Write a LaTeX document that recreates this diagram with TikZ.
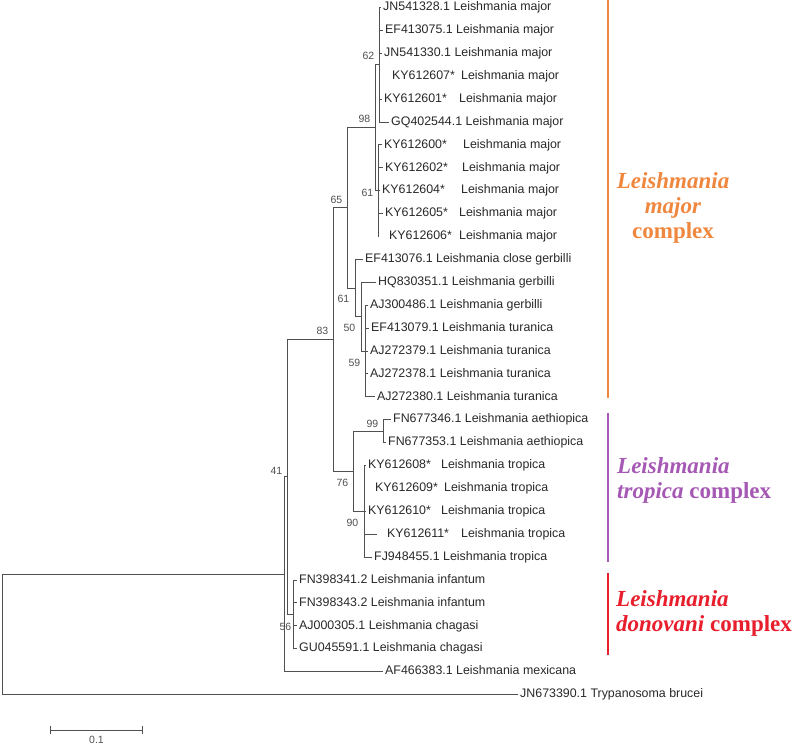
\documentclass[tikz,border=0pt]{standalone}
\usepackage{fontspec}
\setmainfont{Liberation Sans}
\newfontfamily\cladefont{Liberation Serif}
\usepackage{tikz}
\usetikzlibrary{arrows.meta,positioning}
\definecolor{branchgray}{RGB}{80,80,80}
\definecolor{leafgray}{RGB}{40,40,40}
\definecolor{majorcol}{RGB}{240,135,62}
\definecolor{tropcol}{RGB}{165,88,180}
\definecolor{donocol}{RGB}{232,30,45}

\begin{document}
\begin{tikzpicture}[
  x=1pt,y=-1pt,
  branch/.style={draw=branchgray,line width=0.9pt},
  leaf/.style={anchor=west,inner xsep=2pt,inner ysep=0pt,text=leafgray,font=\fontsize{12.4}{14}\selectfont,text height=9pt,text depth=2.5pt},
  boot/.style={inner sep=0.5pt,text=branchgray,font=\fontsize{10.5}{12}\selectfont},
  clade/.style={line width=1.6pt},
  cladetxt/.style={inner sep=1pt,font=\cladefont\bfseries\fontsize{23}{25}\selectfont},
]
\useasboundingbox (0,0) rectangle (794,745);

% internal nodes
\coordinate (n62) at (379,64.75);
\coordinate (n61a) at (378,190.7);
\coordinate (n98) at (375,127.7);
\coordinate (n59) at (365,351);
\coordinate (n50) at (361,316.65);
\coordinate (n61b) at (355,288);
\coordinate (n65) at (347,207.9);
\coordinate (n99) at (383,431.15);
\coordinate (n90) at (364,511.3);
\coordinate (n76) at (353,471.2);
\coordinate (n83) at (333,339.5);
\coordinate (n56) at (293,614.35);
\coordinate (n41) at (287,476.9);
\coordinate (nA) at (284,574.25);
\coordinate (root) at (2,634.4);

% L. major group
\node[leaf] (jn541328) at (381,7.5) {JN541328.1 Leishmania major};
\node[leaf] (ef413075) at (383,30.4) {EF413075.1 Leishmania major};
\node[leaf] (jn541330) at (382,53.3) {JN541330.1 Leishmania major};
\node[leaf] (ky612607) at (390,76.2) {KY612607*};
\node[leaf] (ky612607sp) at (459,76.2) {Leishmania major};
\node[leaf] (ky612601) at (382,99.1) {KY612601*};
\node[leaf] (ky612601sp) at (457,99.1) {Leishmania major};
\node[leaf] (gq402544) at (389,122) {GQ402544.1 Leishmania major};
\node[leaf] (ky612600) at (382,144.9) {KY612600*};
\node[leaf] (ky612600sp) at (461,144.9) {Leishmania major};
\node[leaf] (ky612602) at (383,167.8) {KY612602*};
\node[leaf] (ky612602sp) at (460,167.8) {Leishmania major};
\node[leaf] (ky612604) at (380,190.7) {KY612604*};
\node[leaf] (ky612604sp) at (459,190.7) {Leishmania major};
\node[leaf] (ky612605) at (383,213.6) {KY612605*};
\node[leaf] (ky612605sp) at (457,213.6) {Leishmania major};
\node[leaf] (ky612606) at (387,236.5) {KY612606*};
\node[leaf] (ky612606sp) at (457,236.5) {Leishmania major};

% gerbilli / turanica
\node[leaf] (ef413076) at (363,259.4) {EF413076.1 Leishmania close gerbilli};
\node[leaf] (hq830351) at (376,282.3) {HQ830351.1 Leishmania gerbilli};
\node[leaf] (aj300486) at (368,305.2) {AJ300486.1 Leishmania gerbilli};
\node[leaf] (ef413079) at (369,328.1) {EF413079.1 Leishmania turanica};
\node[leaf] (aj272379) at (368,351) {AJ272379.1 Leishmania turanica};
\node[leaf] (aj272378) at (368,373.9) {AJ272378.1 Leishmania turanica};
\node[leaf] (aj272380) at (375,396.8) {AJ272380.1 Leishmania turanica};

% L. tropica group
\node[leaf] (fn677346) at (391,419.7) {FN677346.1 Leishmania aethiopica};
\node[leaf] (fn677353) at (386,442.6) {FN677353.1 Leishmania aethiopica};
\node[leaf] (ky612608) at (366,465.5) {KY612608*};
\node[leaf] (ky612608sp) at (439,465.5) {Leishmania tropica};
\node[leaf] (ky612609) at (373,488.4) {KY612609*};
\node[leaf] (ky612609sp) at (442,488.4) {Leishmania tropica};
\node[leaf] (ky612610) at (366,511.3) {KY612610*};
\node[leaf] (ky612610sp) at (439,511.3) {Leishmania tropica};
\node[leaf] (ky612611) at (385,534.2) {KY612611*};
\node[leaf] (ky612611sp) at (459,534.2) {Leishmania tropica};
\node[leaf] (fj948455) at (372,557.1) {FJ948455.1 Leishmania tropica};

% L. donovani group and outgroups
\node[leaf] (fn398341) at (297,580) {FN398341.2 Leishmania infantum};
\node[leaf] (fn398343) at (297,602.9) {FN398343.2 Leishmania infantum};
\node[leaf] (aj000305) at (297,625.8) {AJ000305.1 Leishmania chagasi};
\node[leaf] (gu045591) at (297,648.7) {GU045591.1 Leishmania chagasi};
\node[leaf] (af466383) at (383,671.6) {AF466383.1 Leishmania mexicana};
\node[leaf] (jn673390) at (518,694.5) {JN673390.1 Trypanosoma brucei};

% branches
\draw[branch] (n62) |- (jn541328.west);
\draw[branch] (n62) |- (ef413075.west);
\draw[branch] (n62) |- (jn541330.west);
\draw[branch] (n62) |- (ky612601.west);
\draw[branch] (n62) |- (gq402544.west);
\draw[branch] (n61a) |- (ky612600.west);
\draw[branch] (n61a) |- (ky612602.west);
\draw[branch] (n61a) |- (ky612604.west);
\draw[branch] (n61a) |- (ky612605.west);
\draw[branch] (n61a) -- (n61a |- ky612606.west);
\draw[branch] (n98) |- (n62);
\draw[branch] (n98) |- (n61a);
\draw[branch] (n59) |- (aj300486.west);
\draw[branch] (n59) |- (ef413079.west);
\draw[branch] (n59) |- (aj272379.west);
\draw[branch] (n59) |- (aj272378.west);
\draw[branch] (n59) |- (aj272380.west);
\draw[branch] (n50) |- (hq830351.west);
\draw[branch] (n50) |- (n59);
\draw[branch] (n61b) |- (ef413076.west);
\draw[branch] (n61b) |- (n50);
\draw[branch] (n65) |- (n98);
\draw[branch] (n65) |- (n61b);
\draw[branch] (n99) |- (fn677346.west);
\draw[branch] (n99) |- (fn677353.west);
\draw[branch] (n90) |- (ky612608.west);
\draw[branch] (n90) |- (ky612610.west);
\draw[branch] (n90) |- ([xshift=-8pt]ky612611.west);
\draw[branch] (n90) |- (fj948455.west);
\draw[branch] (n76) |- (n99);
\draw[branch] (n76) |- (n90);
\draw[branch] (n83) |- (n65);
\draw[branch] (n83) |- (n76);
\draw[branch] (n56) |- (fn398341.west);
\draw[branch] (n56) |- (fn398343.west);
\draw[branch] (n56) |- (aj000305.west);
\draw[branch] (n56) |- (gu045591.west);
\draw[branch] (n41) |- (n83);
\draw[branch] (n41) |- (n56);
\draw[branch] (nA) |- (n41);
\draw[branch] (nA) |- (af466383.west);
\draw[branch] (root) |- (nA);
\draw[branch] (root) |- (jn673390.west);

% bootstrap values
\node[boot,above left=4pt and 4pt of n62] (b62) {62};
\node[boot,above left=4pt and 4pt of n98] (b98) {98};
\node[boot,left=4pt of n61a,yshift=-2pt] (b61a) {61};
\node[boot,above left=4pt and 4pt of n65] (b65) {65};
\node[boot,below left=6pt and 5pt of n61b] (b61b) {61};
\node[boot,below left=7pt and 5pt of n50] (b50) {50};
\node[boot,below left=7pt and 4pt of n59] (b59) {59};
\node[boot,above left=4pt and 4pt of n83] (b83) {83};
\node[boot,above left=3pt and 4pt of n99] (b99) {99};
\node[boot,below left=7pt and 4pt of n76] (b76) {76};
\node[boot,below left=7pt and 5pt of n90] (b90) {90};
\node[boot,above left=2pt and 4pt of n41] (b41) {41};
\node[boot,below left=8pt and 1pt of n56] (b56) {56};

% scale bar
\coordinate (sbl) at (50,730);
\coordinate (sbr) at (143,730);
\draw[branch,{Bar[width=8pt]}-{Bar[width=8pt]}] (sbl) -- (sbr)
  node[midway,below=5pt,boot] (sblabel) {0.1};

% complexes
\coordinate (majtop) at (608,0);
\coordinate (majbot) at (608,398);
\coordinate (troptop) at (608,413);
\coordinate (tropbot) at (608,562);
\coordinate (donotop) at (608,573);
\coordinate (donobot) at (608,655);
\draw[clade,majorcol] (majtop) -- (majbot);
\draw[clade,tropcol] (troptop) -- (tropbot);
\draw[clade,donocol] (donotop) -- (donobot);
\node[cladetxt,text=majorcol,align=center] (majlbl) at (673,208) {\textit{Leishmania}\\\textit{major}\\complex};
\node[cladetxt,text=tropcol,align=left,anchor=west] (troplbl) at (616,480) {\textit{Leishmania}\\\textit{tropica} complex};
\node[cladetxt,text=donocol,align=left,anchor=west] (donolbl) at (615,613) {\textit{Leishmania}\\\textit{donovani} complex};
\end{tikzpicture}
\end{document}
